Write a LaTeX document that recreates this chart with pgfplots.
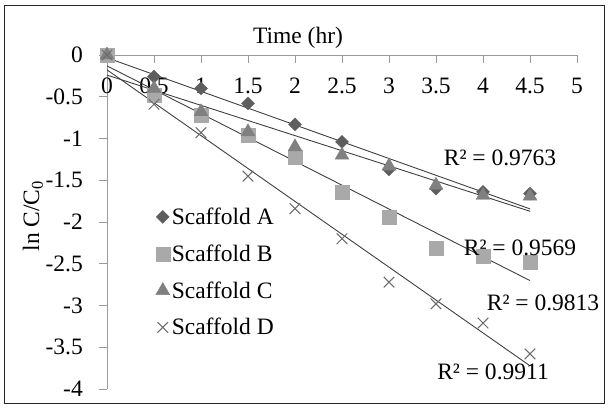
\documentclass[border=0pt]{standalone}
\usepackage{pgfplots}
\usepackage{pgfplotstable}
\pgfplotsset{compat=1.18}
\usepackage{fontspec}
\setmainfont{Liberation Serif}
\newcommand{\fs}{\fontsize{23.5}{27}\selectfont}
\definecolor{cA}{HTML}{5E5E5E}
\definecolor{cB}{HTML}{A9A9A9}
\definecolor{cC}{HTML}{808080}
\definecolor{cD}{HTML}{6A6A6A}
\definecolor{axgray}{HTML}{9A9A9A}

\pgfplotstableread{
x   A     B     C     D
0   0     0     0     0
0.5 -0.26 -0.48 -0.40 -0.59
1   -0.40 -0.72 -0.68 -0.93
1.5 -0.58 -0.96 -0.92 -1.45
2   -0.83 -1.22 -1.10 -1.84
2.5 -1.04 -1.64 -1.20 -2.20
3   -1.37 -1.94 -1.33 -2.72
3.5 -1.60 -2.31 -1.56 -2.98
4   -1.64 -2.41 -1.68 -3.21
4.5 -1.66 -2.48 -1.69 -3.58
}\data

\begin{document}
\begin{tikzpicture}[font=\fs]
\path[use as bounding box] (0,0) rectangle (609pt,-408pt);
\draw[black!85, line width=0.8pt] (4.5pt,-5pt) rectangle (604.5pt,-403.5pt);
\begin{axis}[
  at={(107pt,-55pt)}, anchor=north west,
  x=94pt, y=83.5pt,
  xmin=0, xmax=5, ymin=-4, ymax=0,
  axis x line*=middle, axis y line*=left,
  hide obscured x ticks=false, hide obscured y ticks=false,
  axis line style={axgray, line width=0.8pt},
  xtick={0,0.5,1,1.5,2,2.5,3,3.5,4,4.5,5},
  xticklabels={0,0.5,1,1.5,2,2.5,3,3.5,4,4.5,5},
  ytick={-4,-3.5,-3,-2.5,-2,-1.5,-1,-0.5,0},
  yticklabels={-4,-3.5,-3,-2.5,-2,-1.5,-1,-0.5,0},
  minor tick num=0,
  tick align=center, major tick length=8pt,
  xtick style={axgray, line width=0.8pt, yshift=-4pt},
  ytick style={axgray, line width=0.8pt, xshift=-4pt},
  xticklabel style={font=\fs, anchor=north, inner sep=0pt, yshift=-19pt},
  yticklabel style={font=\fs, anchor=east, inner sep=0pt, xshift=-20pt},
  clip=false,
  legend cell align=left,
  legend style={draw=none, fill=none, font=\fs,
    at={(axis description cs:0.097,0.555)}, anchor=north west,
    row sep=14.8pt},
]
\addplot[only marks, mark=square*, mark options={rotate=45}, mark size=4.6pt, color=cA] table[x=x,y=A]{\data};
\addlegendentry{Scaffold A}
\addplot[only marks, mark=square*, mark size=7pt, color=cB] table[x=x,y=B]{\data};
\addlegendentry{Scaffold B}
\addplot[only marks, mark=triangle*, mark size=8pt, color=cC] table[x=x,y=C]{\data};
\addlegendentry{Scaffold C}
\addplot[only marks, mark=x, mark size=7.5pt, color=cD, mark options={line width=1pt}] table[x=x,y=D]{\data};
\addlegendentry{Scaffold D}

\addplot[forget plot, no marks, color=black!75, line width=0.9pt] table[x=x, y={create col/linear regression={y=A}}]{\data};
\addplot[forget plot, no marks, color=black!75, line width=0.9pt] table[x=x, y={create col/linear regression={y=B}}]{\data};
\addplot[forget plot, no marks, color=black!75, line width=0.9pt] table[x=x, y={create col/linear regression={y=C}}]{\data};
\addplot[forget plot, no marks, color=black!75, line width=0.9pt] table[x=x, y={create col/linear regression={y=D}}]{\data};
\end{axis}
\node at (298pt,-38pt) {Time (hr)};
\node[rotate=90] at (33pt,-216pt) {ln C/C\textsubscript{0}};
\node at (500pt,-158pt) {R² = 0.9763};
\node at (520pt,-248pt) {R² = 0.9569};
\node at (543pt,-303pt) {R² = 0.9813};
\node at (493pt,-372pt) {R² = 0.9911};
\end{tikzpicture}
\end{document}
